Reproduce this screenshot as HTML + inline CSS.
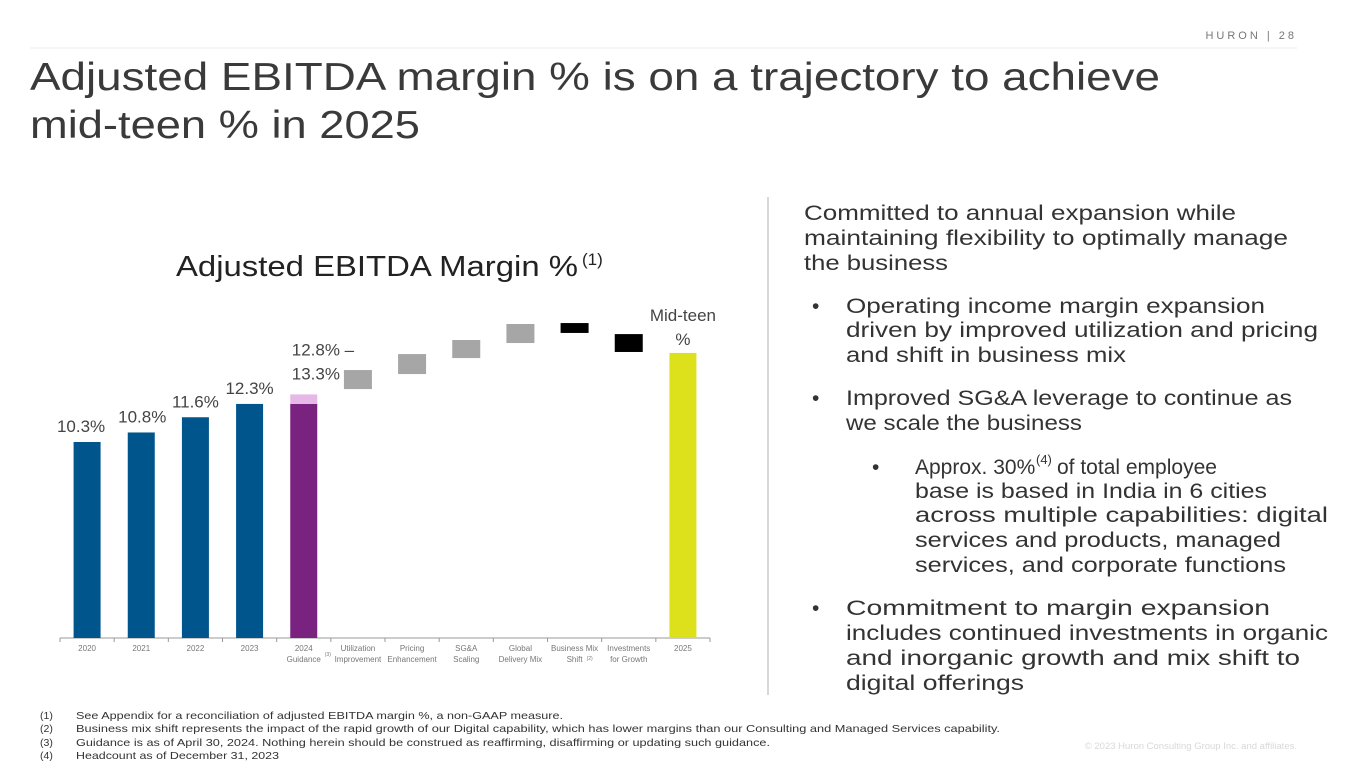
<!DOCTYPE html>
<html><head><meta charset="utf-8"><style>
html,body{margin:0;padding:0;background:#fff}
svg{display:block;font-family:"Liberation Sans",sans-serif}
</style></head><body>
<svg id="page" width="1365" height="768" viewBox="0 0 1365 768">
<text x="1297" y="39" font-size="11" fill="#777" text-anchor="end" letter-spacing="3">HURON | 28</text>
<line x1="30" y1="48" x2="1297" y2="48" stroke="#eee" stroke-width="1"/>
<text x="30" y="90" font-size="39" fill="#3a3a3a" textLength="1130" lengthAdjust="spacingAndGlyphs">Adjusted EBITDA margin % is on a trajectory to achieve</text>
<text x="30" y="138" font-size="39" fill="#3a3a3a" textLength="390" lengthAdjust="spacingAndGlyphs">mid-teen % in 2025</text>

<text x="176" y="276" font-size="29" fill="#222" textLength="402" lengthAdjust="spacingAndGlyphs">Adjusted EBITDA Margin %</text>
<text x="582" y="265" font-size="17" fill="#222">(1)</text>

<g id="chart"></g>

<line x1="768" y1="197" x2="768" y2="695" stroke="#ccc" stroke-width="1.5"/>

<g font-size="21" fill="#333">
<text x="804" y="220" textLength="432" lengthAdjust="spacingAndGlyphs">Committed to annual expansion while</text>
<text x="804" y="245" textLength="484" lengthAdjust="spacingAndGlyphs">maintaining flexibility to optimally manage</text>
<text x="804" y="270" textLength="144" lengthAdjust="spacingAndGlyphs">the business</text>
<text x="812" y="313">•</text>
<text x="846" y="313" textLength="419" lengthAdjust="spacingAndGlyphs">Operating income margin expansion</text>
<text x="846" y="337" textLength="472" lengthAdjust="spacingAndGlyphs">driven by improved utilization and pricing</text>
<text x="846" y="362" textLength="280" lengthAdjust="spacingAndGlyphs">and shift in business mix</text>
<text x="812" y="405">•</text>
<text x="846" y="405" textLength="446" lengthAdjust="spacingAndGlyphs">Improved SG&amp;A leverage to continue as</text>
<text x="846" y="430" textLength="236" lengthAdjust="spacingAndGlyphs">we scale the business</text>
<text x="872" y="474">•</text>
<text x="915" y="474">Approx. 30%</text>
<text x="1036" y="464" font-size="13">(4)</text>
<text x="1057" y="474">of total employee</text>
<text x="915" y="498" textLength="352" lengthAdjust="spacingAndGlyphs">base is based in India in 6 cities</text>
<text x="915" y="522" textLength="413" lengthAdjust="spacingAndGlyphs">across multiple capabilities: digital</text>
<text x="915" y="547" textLength="366" lengthAdjust="spacingAndGlyphs">services and products, managed</text>
<text x="915" y="572" textLength="371" lengthAdjust="spacingAndGlyphs">services, and corporate functions</text>
<text x="812" y="615">•</text>
<text x="846" y="615" textLength="424" lengthAdjust="spacingAndGlyphs">Commitment to margin expansion</text>
<text x="846" y="640" textLength="482" lengthAdjust="spacingAndGlyphs">includes continued investments in organic</text>
<text x="846" y="665" textLength="454" lengthAdjust="spacingAndGlyphs">and inorganic growth and mix shift to</text>
<text x="846" y="690" textLength="178" lengthAdjust="spacingAndGlyphs">digital offerings</text>
</g>

<g font-size="10.5" fill="#333">
<text x="40" y="719">(1)</text><text x="76" y="719" textLength="487" lengthAdjust="spacingAndGlyphs">See Appendix for a reconciliation of adjusted EBITDA margin %, a non-GAAP measure.</text>
<text x="40" y="732">(2)</text><text x="76" y="732" textLength="924" lengthAdjust="spacingAndGlyphs">Business mix shift represents the impact of the rapid growth of our Digital capability, which has lower margins than our Consulting and Managed Services capability.</text>
<text x="40" y="746">(3)</text><text x="76" y="746" textLength="694" lengthAdjust="spacingAndGlyphs">Guidance is as of April 30, 2024. Nothing herein should be construed as reaffirming, disaffirming or updating such guidance.</text>
<text x="40" y="759">(4)</text><text x="76" y="759" textLength="203" lengthAdjust="spacingAndGlyphs">Headcount as of December 31, 2023</text>
</g>
<text x="1297" y="749" font-size="9.5" fill="#d8d8d8" text-anchor="end">© 2023 Huron Consulting Group Inc. and affiliates.</text>
</svg>
<script>
const categories = ["2020","2021","2022","2023","2024|Guidance","Utilization|Improvement","Pricing|Enhancement","SG&A|Scaling","Global|Delivery Mix","Business Mix|Shift","Investments|for Growth","2025"];
const barLow  = [0, 0, 0, 0, 0, 13.08, 13.87, 14.71, 15.5, 16.03, 15.03, 0];
const barHigh = [10.3, 10.8, 11.6, 12.3, 12.3, 14.08, 14.92, 15.66, 16.5, 16.55, 15.97, 14.98];
const rangeTop = [null, null, null, null, 12.8, null, null, null, null, null, null, null];
const barKind = ["actual","actual","actual","actual","guidance","up","up","up","up","down","down","target"];
const valueLabels = ["10.3%","10.8%","11.6%","12.3%","12.8% –|13.3%","","","","","","","Mid-teen|%"];

const NS = "http://www.w3.org/2000/svg";
const g = document.getElementById("chart");
const x0 = 60, x1 = 710, baseY = 638, pxPer = 19.03;
const slot = (x1 - x0) / categories.length;
const xC = i => x0 + slot * (i + 0.5);
const yS = v => baseY - v * pxPer;
const colors = {actual:"#00558C", guidance:"#7A2280", up:"#A6A6A6", down:"#000", target:"#DCE11B"};
function mk(tag, attrs){const e=document.createElementNS(NS,tag);for(const k in attrs)e.setAttribute(k,attrs[k]);g.appendChild(e);return e;}

const ax = mk("line",{x1:x0,y1:baseY,x2:x1,y2:baseY,stroke:"#999","stroke-width":1});


for (let i = 0; i <= categories.length; i++) {
  const t = mk("line",{x1:x0+slot*i,y1:baseY,x2:x0+slot*i,y2:baseY+4,stroke:"#999"});
  
  
}
categories.forEach((c, i) => {
  const w = barKind[i] === "up" || barKind[i] === "down" ? 28 : 27;
  const r = mk("rect",{x:xC(i)-w/2,y:yS(barHigh[i]),width:w,height:yS(barLow[i])-yS(barHigh[i]),fill:colors[barKind[i]]});
  
  
  if (rangeTop[i] !== null) {
    const p = mk("rect",{x:xC(i)-w/2,y:yS(rangeTop[i]),width:w,height:yS(barHigh[i])-yS(rangeTop[i]),fill:"#E5B8E8"});
    
    
  }
  c.split("|").forEach((ln, k) => {
    const t = mk("text",{x:xC(i),y:651+k*11,"font-size":8,fill:"#777","text-anchor":"middle"});
    t.textContent = ln;
    
    
  });
  const lbl = valueLabels[i];
  if (lbl) {
    const parts = lbl.split("|");
    const top = rangeTop[i] !== null ? rangeTop[i] : barHigh[i];
    parts.forEach((ln, k) => {
      let t;
      if (barKind[i] === "guidance") {
        t = mk("text",{x:xC(i)-12,y:yS(top)-39+k*24,"font-size":17,fill:"#444"});
      } else if (barKind[i] === "target") {
        t = mk("text",{x:xC(i),y:yS(top)-32+k*24,"font-size":17,fill:"#444","text-anchor":"middle"});
      } else {
        t = mk("text",{x:xC(i)-(i===0?6:i===1?-1:0),y:yS(top)-10,"font-size":17,fill:"#444","text-anchor":"middle"});
      }
      t.textContent = ln;
      
      
    });
  }
});
const sup = mk("text",{x:xC(4)+21,y:656,"font-size":5,fill:"#777"}); sup.textContent="(3)";


const sup2 = mk("text",{x:xC(9)+12,y:660,"font-size":5,fill:"#777"}); sup2.textContent="(2)";


</script>
</body></html>
